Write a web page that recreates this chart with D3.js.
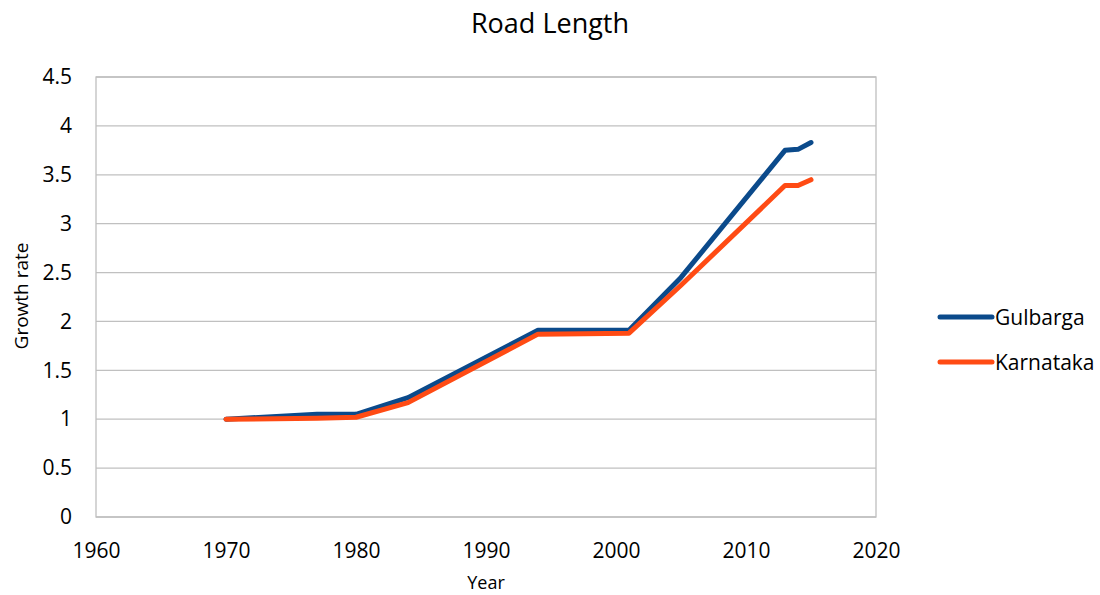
<!DOCTYPE html>
<html><head><meta charset="utf-8">
<script src="https://cdn.jsdelivr.net/npm/d3@7"></script>
<style>body{margin:0;background:#fff;} text{font-family:"Open Sans",sans-serif;fill:#000;}</style>
</head><body>
<svg id="c" width="1100" height="595"></svg>
<script>
const years = [1970, 1977, 1980, 1984, 1994, 2001, 2005, 2013, 2014, 2015];
const gulbarga = [1.0, 1.05, 1.05, 1.22, 1.91, 1.91, 2.45, 3.75, 3.76, 3.83];
const karnataka = [1.0, 1.01, 1.02, 1.17, 1.87, 1.88, 2.37, 3.39, 3.39, 3.45];
const seriesNames = ["Gulbarga", "Karnataka"];
const colors = ["#0B4A8B", "#FF4B14"];
const xTicks = [1960, 1970, 1980, 1990, 2000, 2010, 2020];
const yTicks = [0, 0.5, 1, 1.5, 2, 2.5, 3, 3.5, 4, 4.5];

const svg = d3.select("#c");
const L = 96, R = 876, T = 77, B = 517;
const x = d3.scaleLinear().domain([1960, 2020]).range([L, R]);
const y = d3.scaleLinear().domain([0, 4.5]).range([B, T]);

svg.append("text").attr("x", 550).attr("y", 33).attr("text-anchor", "middle")
  .style("font-size", "27px").text("Road Length");

// gridlines
svg.append("g").selectAll("line").data(yTicks).join("line")
  .attr("x1", L).attr("x2", R).attr("y1", d => y(d)).attr("y2", d => y(d))
  .attr("stroke", "#C0C0C0").attr("stroke-width", 1.3);
svg.append("rect").attr("x", L).attr("y", T).attr("width", R - L).attr("height", B - T)
  .attr("fill", "none").attr("stroke", "#BFBFBF").attr("stroke-width", 1.3);

// axes
const yAx = svg.append("g").attr("transform", `translate(${L},0)`)
  .call(d3.axisLeft(y).tickValues(yTicks).tickSize(0).tickPadding(24).tickFormat(d3.format("")));
yAx.select(".domain").remove();
yAx.selectAll("text").style("font-size", "21px").style("font-family", "'Open Sans',sans-serif");
const xAx = svg.append("g").attr("transform", `translate(0,${B})`)
  .call(d3.axisBottom(x).tickValues(xTicks).tickSize(0).tickPadding(26).tickFormat(d3.format("d")));
xAx.select(".domain").remove();
xAx.selectAll("text").style("font-size", "21px").style("font-family", "'Open Sans',sans-serif");

svg.append("text").attr("x", 486).attr("y", 589).attr("text-anchor", "middle")
  .style("font-size", "18px").text("Year");
svg.append("text").attr("transform", "translate(28,296) rotate(-90)").attr("text-anchor", "middle")
  .style("font-size", "19px").text("Growth rate");

const data = [gulbarga, karnataka];
const line = d3.line().x((d, i) => x(years[i])).y(d => y(d));
svg.append("g").selectAll("path").data(data).join("path")
  .attr("d", line).attr("fill", "none")
  .attr("stroke", (d, i) => colors[i]).attr("stroke-width", 5)
  .attr("stroke-linecap", "round").attr("stroke-linejoin", "round");

// legend
const lg = svg.append("g").selectAll("g").data(seriesNames).join("g")
  .attr("transform", (d, i) => `translate(940,${317 + i * 45})`);
lg.append("line").attr("x1", 0).attr("x2", 52).attr("stroke", (d, i) => colors[i])
  .attr("stroke-width", 5).attr("stroke-linecap", "round");
lg.append("text").attr("x", 55).attr("y", 8).style("font-size", "21px").text(d => d);
</script>
</body></html>
